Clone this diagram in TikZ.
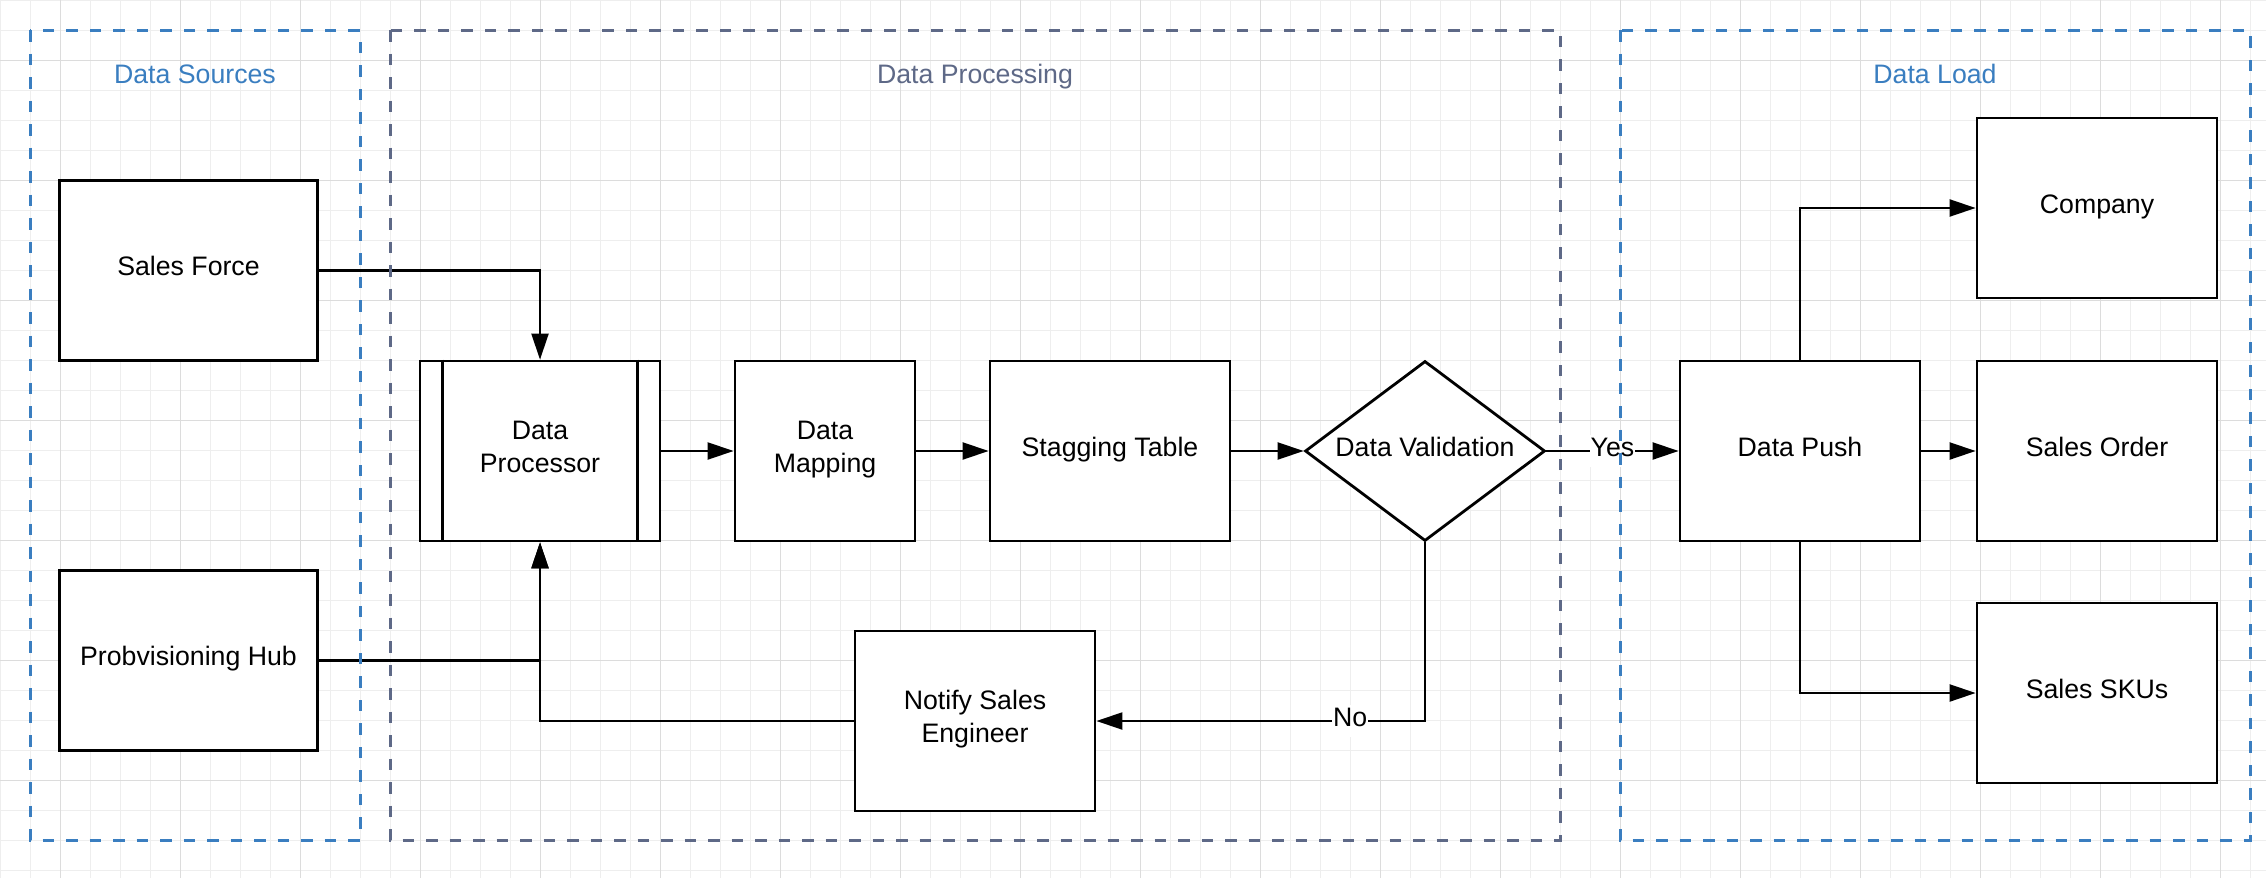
\documentclass[tikz,border=0pt]{standalone}
\usepackage{fontspec}
\setmainfont{Liberation Sans}
\usetikzlibrary{arrows.meta,shapes.geometric}
\definecolor{cblue}{RGB}{58,126,192}
\definecolor{cgrey}{RGB}{94,105,135}
\definecolor{gminor}{RGB}{238,238,238}
\definecolor{gmajor}{RGB}{220,220,220}
\newcommand{\sx}{\rule[-11.2pt]{0pt}{32.5pt}}
\begin{document}
\begin{tikzpicture}[x=1pt,y=-1pt,
  every node/.style={font=\fontsize{26.7}{32.6}\selectfont},
  box/.style={draw=black, line width=2.8pt, fill=white, minimum width=240pt,
    minimum height=180pt, inner sep=0pt, align=center},
  decision/.style={box, diamond, aspect=1.3333},
  conn/.style={line width=2.2pt, -{Triangle[length=26pt,width=17pt]}},
  lbl/.style={fill=white, inner xsep=1pt, inner ysep=0pt},
  container/.style={line width=3pt, dash pattern=on 11.5pt off 12pt},
  title/.style={anchor=base},
  minorline/.style={gminor, line width=1pt},
  majorline/.style={gmajor, line width=1pt}
]
\useasboundingbox (0,0) rectangle (2266,878);
\fill[white] (0,0) rectangle (2266,878);
% grid
\foreach \k in {0,...,75} \draw[minorline] ({30*\k+0.5},0) -- ({30*\k+0.5},878);
\foreach \k in {0,...,29} \draw[minorline] (0,{30*\k+0.5}) -- (2266,{30*\k+0.5});
\foreach \k in {0,...,18} \draw[majorline] ({60+120*\k+0.5},0) -- ({60+120*\k+0.5},878);
\foreach \k in {0,...,6} \draw[majorline] (0,{60+120*\k+0.5}) -- (2266,{60+120*\k+0.5});

% nodes
\node[box, minimum width=258pt] (sf) at (188.5,270.5) {\sx Sales Force};
\node[box, minimum width=258pt] (ph) at (188.5,660.5) {\sx Probvisioning Hub};
\node[box] (dp) at (540,451) {\sx Data\\\sx Processor};
\draw[line width=2.8pt] ([xshift=24pt]dp.north west) -- ([xshift=24pt]dp.south west);
\draw[line width=2.8pt] ([xshift=-24pt]dp.north east) -- ([xshift=-24pt]dp.south east);
\node[box, minimum width=180pt] (dm) at (825,451) {\sx Data\\\sx Mapping};
\node[box] (st) at (1110,451) {\sx Stagging Table};
\node[decision] (dv) at (1425,451) {\sx Data Validation};
\node[box] (ns) at (975,721) {\sx Notify Sales\\\sx Engineer};
\node[box] (push) at (1800,451) {\sx Data Push};
\node[box] (co) at (2097,208) {\sx Company};
\node[box] (so) at (2097,451) {\sx Sales Order};
\node[box] (sku) at (2097,693) {\sx Sales SKUs};

% connectors
\draw[conn] (sf.east) -| (dp.north);
\draw[conn] (ph.east) -| (dp.south);
\draw[conn] (ns.west) -| (dp.south);
\draw[conn] (dp.east) -- (dm.west);
\draw[conn] (dm.east) -- (st.west);
\draw[conn] (st.east) -- (dv.west);
\draw[conn] (dv.east) -- node[lbl] (yes) {\sx Yes} (push.west);
\draw[conn] (dv.south) |- node[lbl, pos=0.614] (no) {\sx No} (ns.east);
\draw[conn] (push.north) |- (co.west);
\draw[conn] (push.east) -- (so.west);
\draw[conn] (push.south) |- (sku.west);

% containers
\draw[container, cblue] (30,30) rectangle (360,840);
\draw[container, cgrey] (390,30) rectangle (1560,840);
\draw[container, cblue] (1620,30) rectangle (2250,840);
\node[title, text=cblue] (tsrc) at (195,83.3) {Data Sources};
\node[title, text=cgrey] (tproc) at (975,83.3) {Data Processing};
\node[title, text=cblue] (tload) at (1935,83.3) {Data Load};
\end{tikzpicture}
\end{document}
